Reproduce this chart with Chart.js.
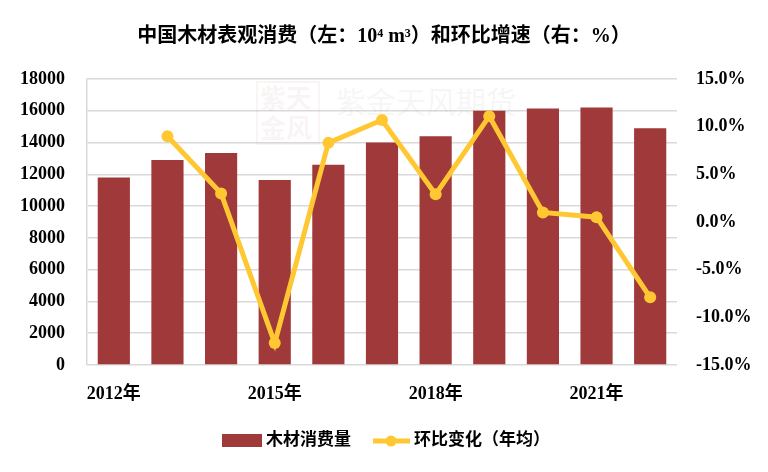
<!DOCTYPE html>
<html lang="zh">
  <head>
    <meta charset="UTF-8" />
    <title>中国木材表观消费</title>
    <script src="https://cdn.jsdelivr.net/npm/chart.js@4.4.0/dist/chart.umd.min.js"></script>
    <style>
      body { margin: 0; background: #fff; }
      #wrap { width: 768px; height: 472px; position: relative; }
    </style>
  </head>
  <body>
    <div id="wrap"><canvas id="chart"></canvas></div>
    <script>
      var years = ['2012年', '2013年', '2014年', '2015年', '2016年', '2017年', '2018年', '2019年', '2020年', '2021年', '2022年'];
      var consumption = [11800, 12900, 13350, 11650, 12600, 14000, 14400, 16000, 16150, 16200, 14900];
      var growth = [null, 9.0, 3.0, -12.7, 8.3, 10.7, 2.9, 11.1, 1.0, 0.5, -7.9];

      var FONT = '"Liberation Serif", "Noto Sans CJK SC", serif';
      var BAR = '#a0393a';
      var LINE = '#ffc832';
      var GRID = '#d9d9d9';

      var titleAndLegend = {
        id: 'titleAndLegend',
        beforeDatasetsDraw(chart) {
          var ctx = chart.ctx;
          ctx.save();
          // faint watermark
          ctx.strokeStyle = 'rgba(190,120,120,0.08)';
          ctx.lineWidth = 2;
          ctx.strokeRect(257, 82, 62, 62);
          ctx.fillStyle = 'rgba(190,120,120,0.07)';
          ctx.font = 'bold 26px "Noto Sans CJK SC"';
          ctx.textBaseline = 'middle';
          ctx.fillText('紫天', 260, 98);
          ctx.fillText('金风', 260, 128);
          ctx.fillStyle = 'rgba(160,160,160,0.09)';
          ctx.font = '30px "Noto Sans CJK SC"';
          ctx.fillText('紫金天风期货', 336, 102);
          ctx.restore();
        },
        afterDraw(chart) {
          var ctx = chart.ctx;
          ctx.save();
          ctx.fillStyle = '#000';
          ctx.textBaseline = 'middle';
          ctx.textAlign = 'center';
          ctx.font = 'bold 20px ' + FONT;
          ctx.fillText('中国木材表观消费（左：10⁴ m³）和环比增速（右：%）', 384, 37);

          // legend
          ctx.textAlign = 'left';
          ctx.font = 'bold 17px ' + FONT;
          ctx.fillStyle = BAR;
          ctx.fillRect(222, 434, 40, 13);
          ctx.fillStyle = '#000';
          ctx.fillText('木材消费量', 266, 441);
          ctx.strokeStyle = LINE;
          ctx.lineWidth = 5;
          ctx.beginPath();
          ctx.moveTo(373, 441);
          ctx.lineTo(410, 441);
          ctx.stroke();
          ctx.fillStyle = LINE;
          ctx.beginPath();
          ctx.arc(391, 441, 5.5, 0, Math.PI * 2);
          ctx.fill();
          ctx.fillStyle = '#000';
          ctx.fillText('环比变化（年均）', 414, 441);
          ctx.restore();
        }
      };

      new Chart(document.getElementById('chart'), {
        data: {
          labels: years,
          datasets: [
            {
              type: 'line',
              label: '环比变化（年均）',
              data: growth,
              yAxisID: 'y1',
              borderColor: LINE,
              backgroundColor: LINE,
              borderWidth: 5,
              pointRadius: 6,
              pointBackgroundColor: LINE,
              pointBorderWidth: 0,
              tension: 0,
              order: 0
            },
            {
              type: 'bar',
              label: '木材消费量',
              data: consumption,
              yAxisID: 'y',
              backgroundColor: BAR,
              barPercentage: 0.6,
              categoryPercentage: 1,
              order: 1
            }
          ]
        },
        options: {
          responsive: true,
          maintainAspectRatio: false,
          animation: false,
          layout: { padding: { top: 79, left: 0, right: 0, bottom: 0 } },
          plugins: {
            legend: { display: false },
            title: { display: false },
            tooltip: { enabled: false }
          },
          scales: {
            x: {
              grid: { display: false, drawTicks: false },
              border: { display: false },
              ticks: {
                autoSkip: false,
                maxRotation: 0,
                padding: 19,
                color: '#000',
                font: { family: FONT, size: 18, weight: 'bold' },
                callback: function (v, i) { return i % 3 === 0 ? years[i] : ''; }
              },
              afterFit: function (s) { s.height = 107; }
            },
            y: {
              position: 'left',
              min: 0,
              max: 18000,
              ticks: {
                stepSize: 2000,
                padding: 22,
                color: '#000',
                font: { family: FONT, size: 18, weight: 'bold' },
                callback: function (v) { return String(v); }
              },
              grid: { color: GRID, lineWidth: 1.5, drawTicks: false },
              border: { display: true, color: GRID, width: 1.5 },
              afterFit: function (s) { s.width = 87; }
            },
            y1: {
              position: 'right',
              min: -15,
              max: 15,
              ticks: {
                stepSize: 5,
                padding: 19,
                color: '#000',
                font: { family: FONT, size: 18, weight: 'bold' },
                callback: function (v) { return v.toFixed(1) + '%'; }
              },
              grid: { display: false, drawTicks: false },
              border: { display: false },
              afterFit: function (s) { s.width = 91; }
            }
          }
        },
        plugins: [titleAndLegend]
      });
    </script>
  </body>
</html>
